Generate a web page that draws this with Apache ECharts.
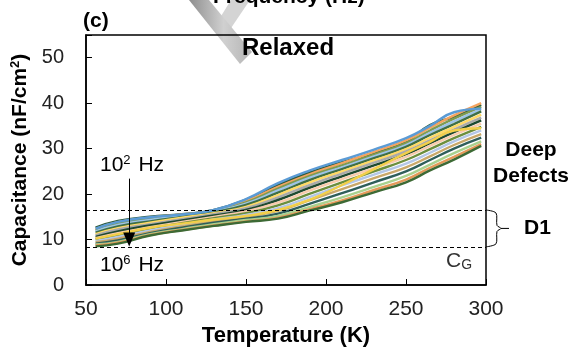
<!DOCTYPE html>
<html>
<head>
<meta charset="utf-8">
<script src="https://cdn.jsdelivr.net/npm/echarts@6/dist/echarts.min.js"></script>
<style>
  html, body { margin: 0; padding: 0; background: #fff; }
  #chart { width: 575px; height: 352px; }
</style>
</head>
<body>
<div id="chart"></div>
<script>
// temperature points (K)
const temps = [56, 70, 90, 110, 130, 150, 170, 190, 210, 230, 250, 265, 280, 297];

// capacitance curves (nF/cm2), 10^2 Hz at top down to 10^6 Hz at bottom
const curves = [
  [12.6, 14.1, 15.0, 15.6, 16.5, 18.8, 22.0, 24.8, 27.0, 29.0, 31.5, 35.2, 37.0, 39.6],
  [12.3, 13.8, 14.8, 15.5, 16.4, 18.5, 21.6, 24.4, 26.8, 29.3, 31.8, 34.6, 37.3, 40.0],
  [12.0, 13.5, 14.6, 15.4, 16.3, 18.2, 21.2, 24.0, 26.3, 28.7, 31.2, 34.0, 36.6, 39.2],
  [11.8, 13.2, 14.3, 15.2, 16.2, 17.9, 20.8, 23.6, 25.9, 28.3, 30.8, 33.5, 36.0, 38.7],
  [11.5, 12.9, 14.0, 15.0, 16.0, 17.6, 20.3, 23.1, 25.5, 27.9, 30.4, 33.0, 35.4, 38.2],
  [11.2, 12.5, 13.7, 14.8, 15.8, 17.2, 19.8, 22.6, 25.0, 27.4, 29.9, 32.4, 34.8, 37.5],
  [10.9, 12.2, 13.4, 14.5, 15.6, 16.9, 19.3, 22.0, 24.5, 26.9, 29.4, 31.8, 34.2, 36.8],
  [10.6, 11.8, 13.1, 14.2, 15.3, 16.5, 18.7, 21.4, 23.9, 26.3, 28.8, 31.2, 33.6, 36.2],
  [10.3, 11.4, 12.7, 13.9, 15.0, 16.2, 18.1, 20.8, 23.3, 25.7, 28.2, 30.6, 33.0, 35.5],
  [10.0, 11.0, 12.4, 13.6, 14.7, 15.8, 17.5, 20.1, 22.6, 25.0, 27.5, 29.9, 32.3, 34.8],
  [9.7, 10.6, 12.0, 13.2, 14.4, 15.4, 16.9, 19.4, 21.9, 24.3, 26.7, 29.1, 31.6, 34.0],
  [9.4, 10.2, 11.7, 12.9, 14.0, 15.0, 16.3, 18.7, 21.1, 23.5, 25.9, 28.3, 30.8, 33.2],
  [9.1, 9.8, 11.4, 12.6, 13.7, 14.6, 15.7, 17.9, 20.2, 22.6, 25.0, 27.5, 30.0, 32.4],
  [8.9, 9.5, 11.2, 12.3, 13.4, 14.3, 15.2, 17.2, 19.3, 21.6, 24.0, 26.5, 29.0, 31.6],
  [8.7, 9.3, 11.0, 12.1, 13.1, 14.0, 14.8, 16.7, 18.6, 20.9, 23.2, 25.8, 28.2, 31.0],
  [8.5, 9.1, 10.9, 12.0, 13.0, 13.9, 14.6, 16.4, 18.2, 20.4, 22.6, 25.2, 27.6, 30.6],
  [10.2, 11.2, 12.6, 13.5, 14.4, 15.2, 16.5, 18.8, 22.0, 25.5, 29.0, 31.5, 34.0, 34.5],
  [12.4, 13.9, 14.9, 15.5, 16.5, 18.9, 22.4, 25.2, 27.5, 29.8, 32.3, 35.0, 38.0, 38.8]
];

const palette = ['#2e5b3c', '#f4a460', '#7f9b4f', '#9dc3e6', '#3f6f45', '#ffd966',
  '#a9a9a9', '#1f4a30', '#f8cbad', '#6b8e3d', '#b4c7e7', '#c9a86a', '#2f5f5a',
  '#a9d18e', '#e59a5a', '#3d6a35', '#f2cf4a', '#5b9bd5'];

// dashed reference levels: D1 top, C_G
const levels = [16.5, 8.4];
// frequency arrow: temperature, from, to
const arrowT = 77;
const arrowRange = [23.4, 10.0];

const xTicks = { min: 50, max: 300, step: 50 };
const yTicks = { min: 0, max: 55, step: 10 };

const font = 'Liberation Sans, Arial, sans-serif';
const chart = echarts.init(document.getElementById('chart'));

const series = curves.map((vals, i) => ({
  type: 'line',
  data: temps.map((t, j) => [t, vals[j]]),
  smooth: true,
  symbol: 'none',
  silent: true,
  lineStyle: { color: palette[i % palette.length], width: 2.4 }
}));

series.push({
  type: 'line',
  data: [],
  markLine: {
    silent: true,
    symbol: 'none',
    label: { show: false },
    lineStyle: { color: '#000', type: [4, 3], width: 1 },
    data: levels.map(v => ({ yAxis: v }))
  }
});
series.push({
  type: 'line',
  data: [],
  markLine: {
    silent: true,
    symbol: ['none', 'triangle'],
    symbolSize: [12, 14],
    label: { show: false },
    lineStyle: { color: '#000', type: 'solid', width: 1 },
    data: [[{ coord: [arrowT, arrowRange[0]] }, { coord: [arrowT, arrowRange[1]] }]]
  }
});

chart.setOption({
  animation: false,
  grid: { left: 86, right: 89, top: 35, bottom: 64, show: true, borderColor: '#000', borderWidth: 1.5 },
  xAxis: {
    type: 'value',
    min: xTicks.min, max: xTicks.max, interval: xTicks.step,
    name: 'Temperature (K)',
    nameLocation: 'middle',
    nameGap: 40,
    nameTextStyle: { fontFamily: font, fontWeight: 'bold', fontSize: 22, color: '#000' },
    axisLine: { lineStyle: { color: '#000', width: 1.5 } },
    axisTick: { inside: true, length: 6, lineStyle: { color: '#000' } },
    axisLabel: { fontFamily: font, fontSize: 21, color: '#222', margin: 14 },
    splitLine: { show: false }
  },
  yAxis: {
    type: 'value',
    min: yTicks.min, max: yTicks.max, interval: yTicks.step,
    name: 'Capacitance (nF/cm{sup|2})',
    nameLocation: 'middle',
    nameGap: 52,
    nameRotate: 90,
    nameTextStyle: {
      fontFamily: font, fontWeight: 'bold', fontSize: 21, color: '#000',
      rich: { sup: { fontFamily: font, fontWeight: 'bold', fontSize: 13, color: '#000', verticalAlign: 'top', padding: [0, 0, 10, 0] } }
    },
    axisLine: { lineStyle: { color: '#000', width: 1.5 } },
    axisTick: { inside: true, length: 6, lineStyle: { color: '#000' } },
    axisLabel: {
      fontFamily: font, fontSize: 20, color: '#222', margin: 22,
      formatter: v => (v > 50 ? '' : String(v))
    },
    splitLine: { show: false }
  },
  series: series
});

// annotations placed relative to the axes
const px = (t, v) => chart.convertToPixel({ gridIndex: 0 }, [t, v]);
const yTop = px(300, levels[0])[1];
const yBot = px(300, levels[1])[1];
const xR = px(300, 0)[0];
const yMid = (yTop + yBot) / 2;

const txt = (x, y, text, opts) => ({
  type: 'text', x: x, y: y, z: 10,
  style: Object.assign({ text: text, fontFamily: font, fontSize: 21, fill: '#000' }, opts || {})
});
const supRich = { sup: { fontFamily: font, fontSize: 13, fill: '#000', verticalAlign: 'top', padding: [0, 2, 10, 0] } };

chart.setOption({
  graphic: [
    // grey arrow from neighbouring panel (sits behind the frame and texts)
    { type: 'polygon', z: -2, shape: { points: [[213, 29], [231, 0], [250, 0], [227, 34]] },
      style: { fill: '#d4d4d4' } },
    { type: 'polygon', z: -1, shape: { points: [[189, 0], [209, 0], [252, 52], [240, 64]] },
      style: { fill: new echarts.graphic.LinearGradient(0, 0, 1, 0, [
        { offset: 0, color: '#8e8e8e' }, { offset: 0.55, color: '#d0d0d0' }, { offset: 1, color: '#b4b4b4' }]) } },
    txt(213, -13, 'Frequency (Hz)', { fontWeight: 'bold' }),
    txt(83, 11, '(c)', { fontWeight: 'bold' }),
    txt(242, 36, 'Relaxed', { fontWeight: 'bold', fontSize: 24 }),
    { type: 'text', x: 100, y: 154, z: 10, style: { text: '10{sup|2} Hz', fontFamily: font, fontSize: 21, fill: '#000', rich: supRich } },
    { type: 'text', x: 100, y: 254, z: 10, style: { text: '10{sup|6} Hz', fontFamily: font, fontSize: 21, fill: '#000', rich: supRich } },
    {
      type: 'text', x: 446, y: 250, z: 10,
      style: { text: 'C{sub|G}', fontFamily: font, fontSize: 21, fill: '#333',
        rich: { sub: { fontFamily: font, fontSize: 14, fill: '#333', verticalAlign: 'bottom', padding: [8, 0, 0, 0] } } }
    },
    txt(531, 163, 'Deep\nDefects', { fontWeight: 'bold', align: 'center', verticalAlign: 'middle', lineHeight: 26 }),
    txt(524, yMid, 'D1', { fontWeight: 'bold', verticalAlign: 'middle' }),
    // brace for D1
    { type: 'polyline', silent: true,
      shape: { points: [[xR, yTop], [xR + 10, yTop + 3], [xR + 11, yMid - 3], [xR + 15, yMid], [xR + 11, yMid + 3], [xR + 10, yBot - 3], [xR, yBot]], smooth: 0.3 },
      style: { stroke: '#000', lineWidth: 1, fill: null } },
    { type: 'line', shape: { x1: xR + 15, y1: yMid, x2: xR + 23, y2: yMid }, style: { stroke: '#000', lineWidth: 1 } }
  ]
});
</script>
</body>
</html>
